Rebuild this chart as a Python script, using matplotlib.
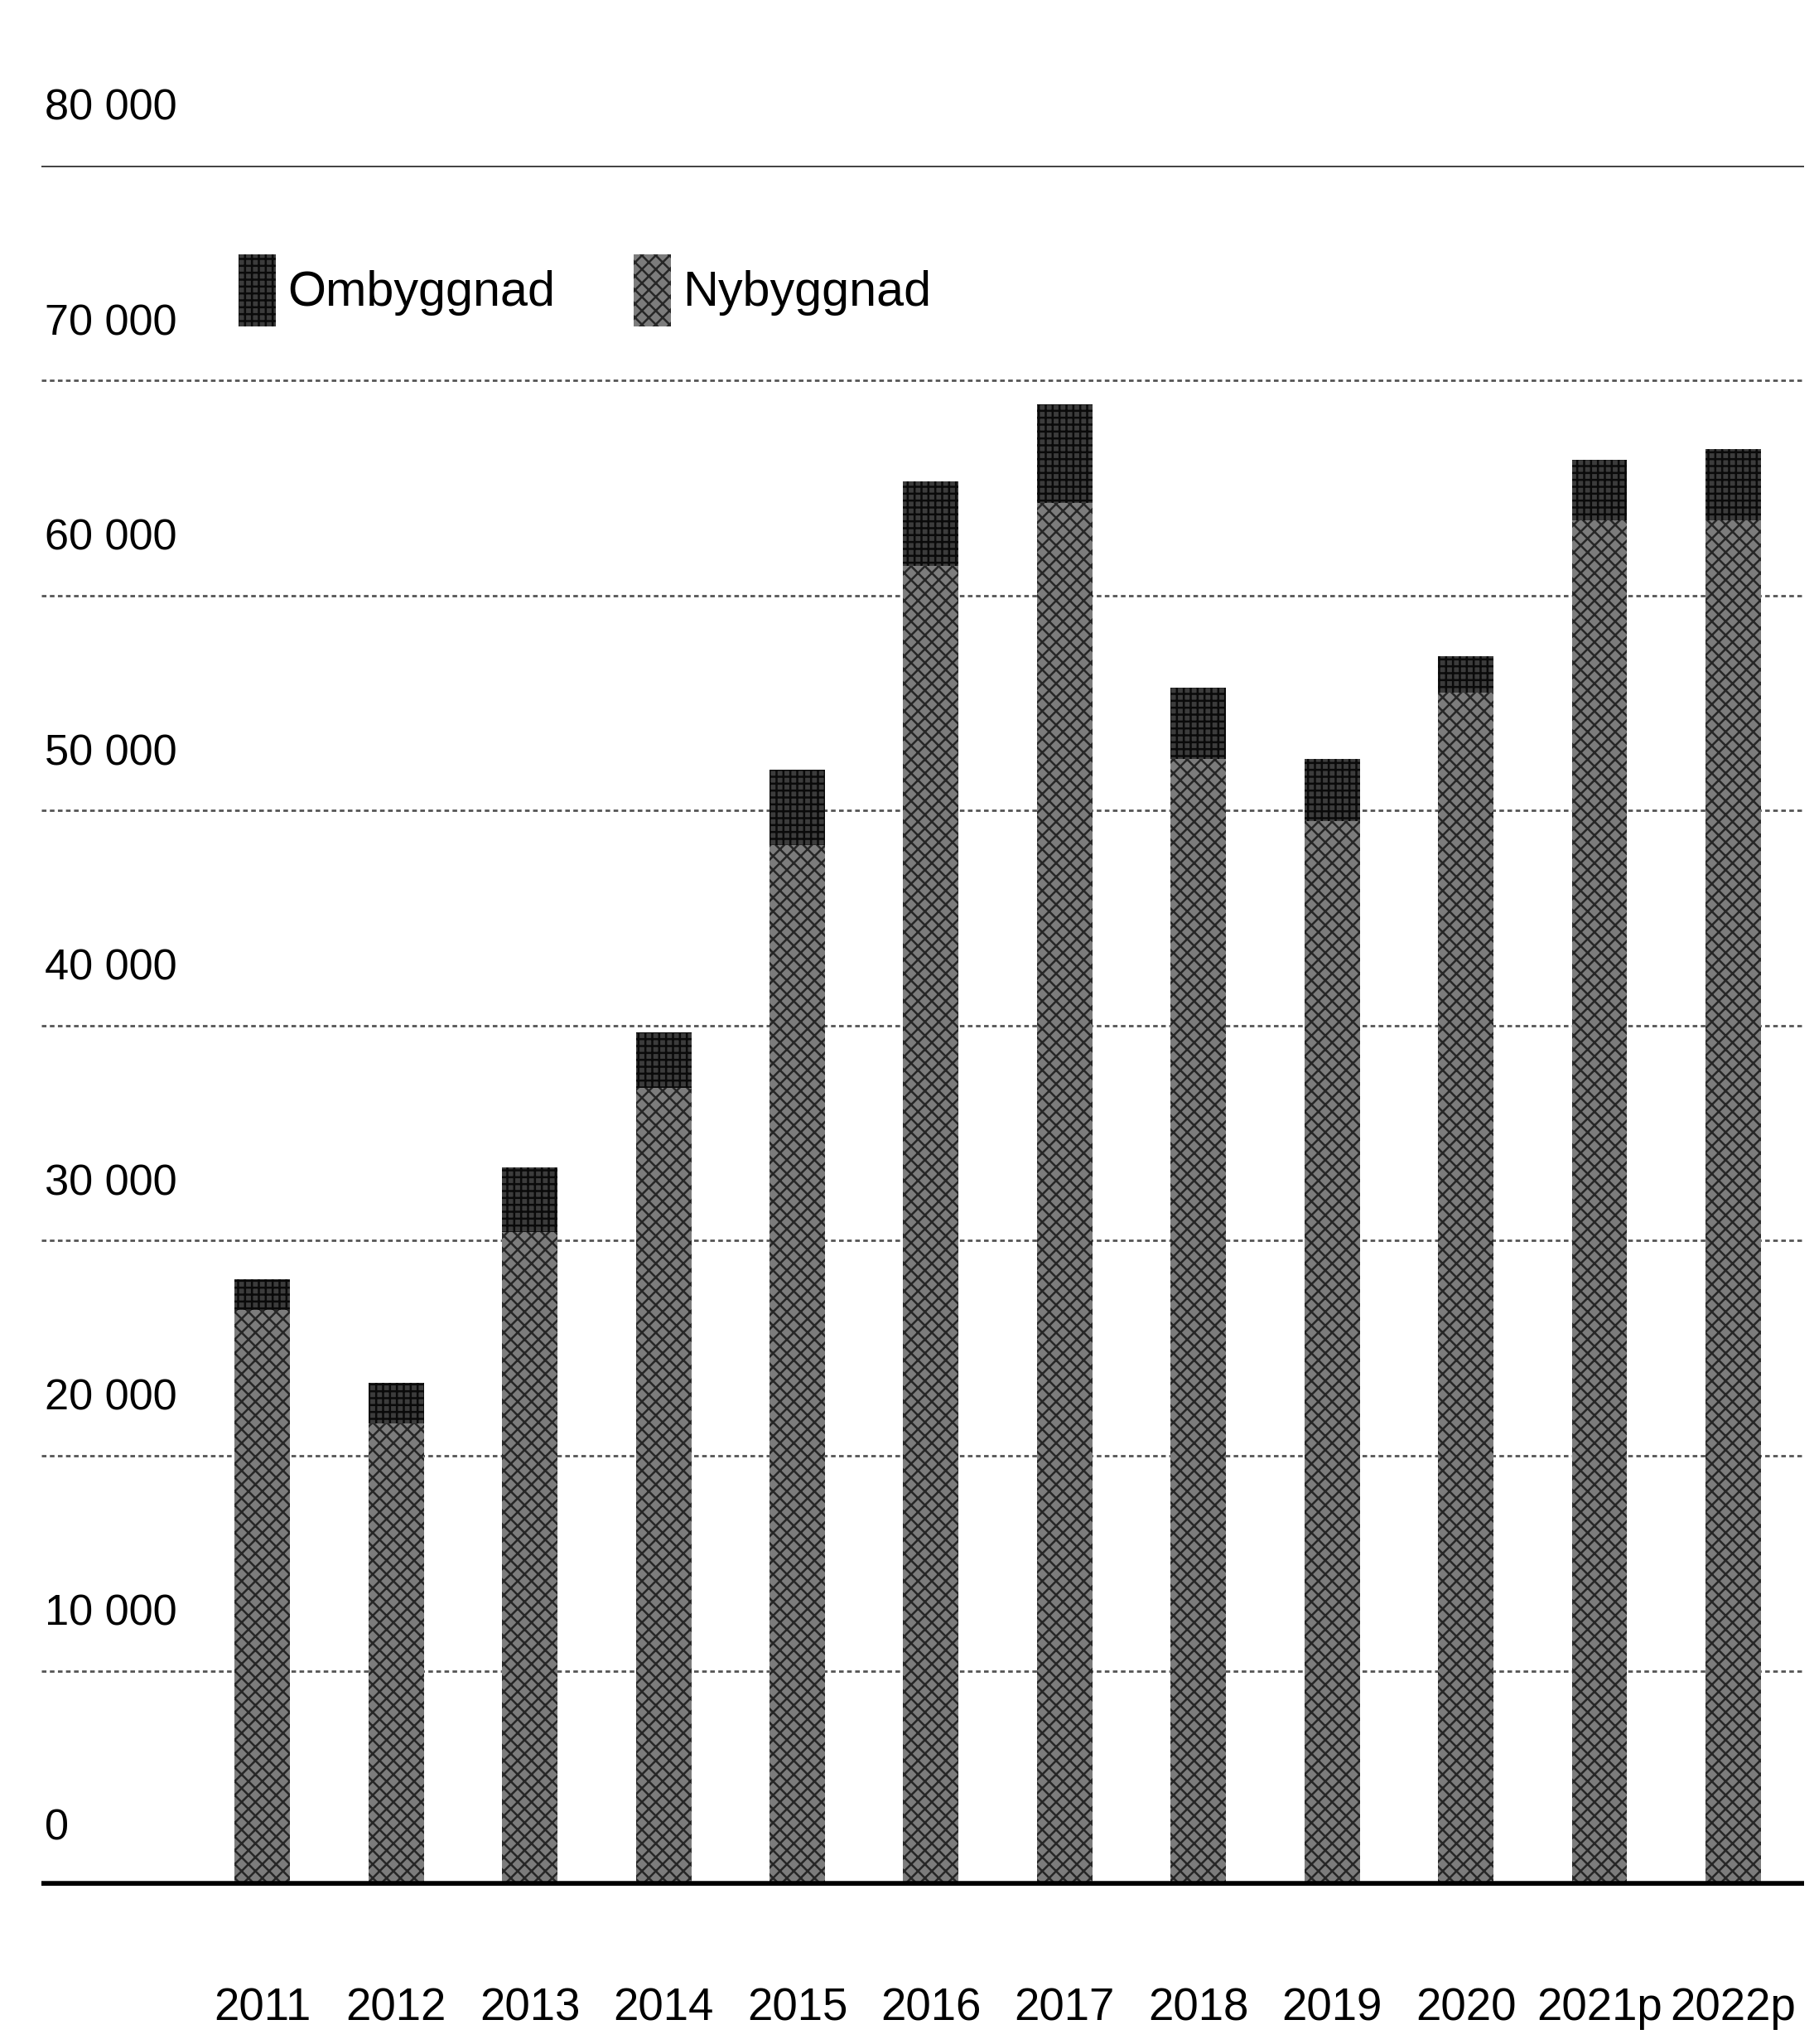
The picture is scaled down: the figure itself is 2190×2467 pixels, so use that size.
import matplotlib
matplotlib.use('Agg')
import matplotlib.pyplot as plt
from matplotlib import font_manager
from matplotlib.patches import Patch
import numpy as np

# bostäder per år, nybyggnad och ombyggnad (staplade)
ar = ['2011', '2012', '2013', '2014', '2015', '2016', '2017', '2018', '2019', '2020', '2021p', '2022p']
nybyggnad = [26800, 21500, 30400, 37100, 48400, 61400, 64300, 52400, 49500, 55500, 63500, 63500]
ombyggnad = [1400, 1900, 3000, 2600, 3500, 3900, 4600, 3300, 2900, 1700, 2800, 3300]
y_steg = [0, 10000, 20000, 30000, 40000, 50000, 60000, 70000, 80000]
y_etiketter = ['0', '10 000', '20 000', '30 000', '40 000', '50 000', '60 000', '70 000', '80 000']

# smal font om den finns
namn = {f.name for f in font_manager.fontManager.ttflist}
if 'Liberation Sans Narrow' in namn:
    font, k = 'Liberation Sans Narrow', 1.0
else:
    font, k = 'Liberation Sans', 0.82
plt.rcParams['font.family'] = [font, 'DejaVu Sans']
plt.rcParams['hatch.linewidth'] = 1.8

ny_farg, ny_linje = '#7c7c7c', '#262626'
om_farg, om_linje = '#3c3c3c', '#0a0a0a'

fig = plt.figure(figsize=(21.9, 24.67), dpi=100)
ax = fig.add_axes([0.0228, 0.0774, 0.9717, 0.8416])

x = np.arange(len(ar))
bredd = 0.415

ax.bar(x, nybyggnad, bredd, color=ny_farg, hatch='xx', edgecolor=ny_linje, linewidth=0, zorder=2)
ax.bar(x, ombyggnad, bredd, bottom=nybyggnad, color=om_farg, hatch='++', edgecolor=om_linje, linewidth=0, zorder=2)

# stödlinjer
for v in y_steg[1:]:
    if v == 80000:
        ax.axhline(v, color='#333333', lw=2.6, zorder=1)
    else:
        ax.axhline(v, color='#555555', lw=2.0, ls=(0, (2, 1.5)), zorder=1)
ax.axhline(0, color='black', lw=9, zorder=3)

trans = ax.get_yaxis_transform()
for v, t in zip(y_steg, y_etiketter):
    ax.text(0.002, v + 1700, t, transform=trans, ha='left', va='bottom',
            fontsize=46 * k, color='black', clip_on=False)

ax.set_xlim(-1.654, 11.53)
ax.set_ylim(0, 80000)
ax.set_xticks(x)
ax.set_xticklabels(ar, fontsize=48 * k)
ax.set_yticks([])
ax.tick_params(axis='x', length=0, pad=88)
for s in ax.spines.values():
    s.set_visible(False)

handles = [Patch(facecolor=om_farg, hatch='++', edgecolor=om_linje, linewidth=0, label='Ombyggnad'),
           Patch(facecolor=ny_farg, hatch='xx', edgecolor=ny_linje, linewidth=0, label='Nybyggnad')]
ax.legend(handles=handles, ncol=2, loc='center left', bbox_to_anchor=(0.112, 0.9275),
          frameon=False, fontsize=52 * k, handlelength=0.75, handleheight=1.9,
          handletextpad=0.25, columnspacing=1.6, borderpad=0, borderaxespad=0)

fig.savefig('out.png', dpi=100, facecolor='white')
